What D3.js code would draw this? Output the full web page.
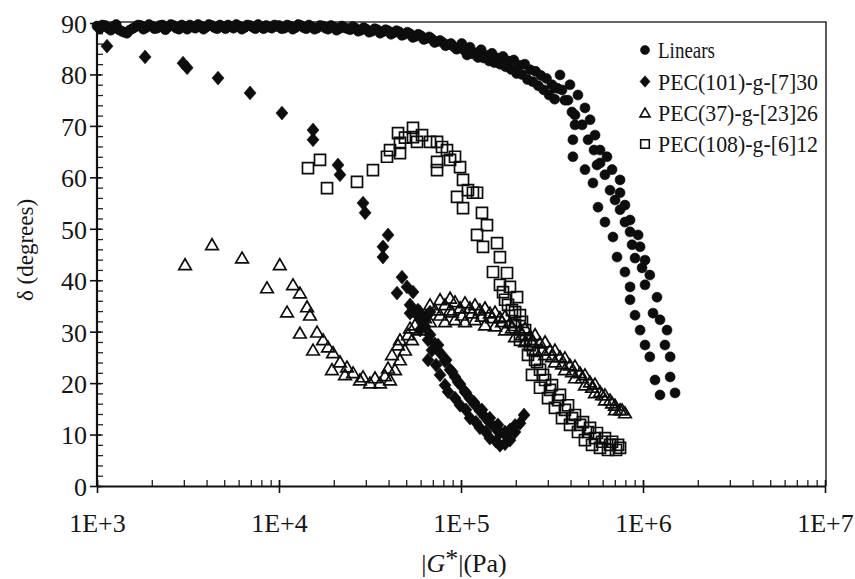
<!DOCTYPE html>
<html>
<head>
<meta charset="utf-8">
<script src="https://cdn.jsdelivr.net/npm/d3@7"></script>
<style>
  body { margin: 0; background: #fff; }
  svg { display: block; }
  text { font-family: "Liberation Serif", "Times New Roman", serif; fill: #151515; }
</style>
</head>
<body>
<svg id="chart" width="855" height="579"></svg>
<script>
// Data: [|G*| (Pa), delta (degrees)]
const linears = [
  [1000,89.4],[1070,89.6],[1150,89.0],[1230,89.3],[1320,88.7],[1410,88.2],[1510,88.6],[1620,89.2],[1740,89.5],[1860,89.1],
  [2000,89.4],[2140,89.0],[2290,89.6],[2460,89.2],[2630,89.5],[2820,88.8],[3020,89.3],[3240,89.6],[3470,89.0],[3720,89.4],
  [3980,89.2],[4270,89.5],[4570,88.9],[4900,89.3],[5250,89.6],[5620,89.0],[6030,89.4],[6460,89.1],[6920,89.5],[7410,88.9],
  [7940,89.3],[8510,89.5],[9120,89.0],[9770,89.3],[10000,89.5],[10700,89.0],[11500,89.4],[12300,89.1],[13200,89.5],[14100,88.9],
  [15100,89.3],[16200,89.0],[17400,89.4],[18600,88.8],[20000,89.2],[21400,88.9],[22900,89.1],[24600,88.7],[26300,89.0],[28200,88.6],
  [30200,88.8],[32400,88.4],[34700,88.7],[37200,88.3],[39800,88.5],[42700,88.1],[45700,88.3],[49000,87.8],[52500,87.9],[56200,87.4],
  [60300,87.5],[64600,87.0],[69200,86.9],[74100,86.4],[79400,86.2],[85100,85.8],[91200,85.4],[97700,85.1],
  [1035,88.9],[1110,89.5],[1190,88.6],[1275,89.7],[1365,88.4],[1460,88.0],[1565,88.9],[1680,89.6],[1800,88.8],[1930,89.7],
  [2070,88.9],[2215,89.5],[2375,88.7],[2545,89.7],[2725,89.0],[2920,89.6],[3130,88.8],[3355,89.2],[3595,89.7],[3850,88.8],
  [4120,89.7],[4420,89.1],[4735,89.6],[5075,88.9],[5435,89.3],[5825,89.7],[6245,88.8],[6690,89.6],[7165,89.2],[7675,89.7],
  [8225,88.9],[8815,89.2],[9445,89.6],[10350,88.9],[11100,89.6],[11900,88.8],[12750,89.7],[13650,89.1],[14600,89.6],[15650,88.8],
  [16800,89.5],[18000,89.0],[19300,89.5],[20700,88.6],[22150,89.4],[23750,88.9],[25450,89.3],[27250,88.4],[29200,89.1],[31300,88.2],
  [33550,88.9],[35950,88.0],[38500,88.7],[41250,87.8],[44200,88.5],[47350,87.6],[50750,88.2],[54350,87.2],[58250,87.8],[62450,86.8],
  [66900,87.3],[71650,86.2],[76750,86.6],[82250,85.6],[88150,86.0],[94450,84.9],
  [105000,84.6],[112000,85.3],[120000,84.2],[129000,84.8],[138000,83.7],[148000,84.1],[158000,83.2],[170000,83.5],[182000,82.6],[195000,82.8],
  [209000,81.8],[224000,82.0],[240000,80.9],[257000,80.6],[275000,79.8],[295000,79.2],[316000,78.0],[339000,77.3],
  [101000,86.0],[108000,83.8],[116000,84.0],[124000,83.3],[133000,83.2],[143000,82.6],[153000,82.3],[164000,82.0],[176000,81.5],[188000,81.0],
  [202000,80.2],[216000,80.0],[232000,79.0],[248000,78.6],[266000,77.8],[285000,77.0],[305000,76.0],[327000,75.2],
  // upper-left branch of the fall
  [359000,77.0],[387000,75.0],[407000,72.7],[423000,70.2],[412000,67.3],[412000,64.0],[480000,61.5],[531000,58.9],[566000,54.2],[618000,51.3],
  [684000,48.4],[720000,44.5],[796000,41.6],[849000,38.7],[849000,36.2],[904000,33.2],[964000,30.3],[1026000,27.4],[1090000,25.1],[1164000,20.6],[1240000,17.7],
  // lower-right branch of the fall
  [350000,79.9],[397000,78.0],[439000,76.0],[480000,73.5],[512000,71.2],[545000,68.2],[581000,65.3],[581000,62.8],[634000,64.0],[676000,61.5],
  [748000,59.5],[748000,57.0],[796000,54.6],[849000,51.7],[940000,48.8],[964000,46.5],[1026000,43.9],[1090000,41.0],[1194000,36.7],[1135000,33.6],
  [1240000,32.3],[1355000,30.3],[1320000,27.4],[1410000,25.1],[1410000,21.2],[1500000,18.1],
  // middle of the fall
  [328000,77.4],[372000,75.0],[423000,72.1],[463000,70.2],[499000,67.3],[538000,65.3],[559000,62.4],[618000,60.5],[659000,57.5],[702000,55.6],
  [748000,53.7],[796000,51.3],[849000,49.4],[871000,46.9],[904000,44.3],[988000,42.4],[1026000,39.1]
];

const pec101 = [
  [1135,85.5],[1837,83.4],[2970,82.2],[3127,81.3],[4624,79.3],[6934,76.4],[10380,72.5],[15380,69.2],[15380,67.3],
  [21090,62.4],[21630,60.5],[28960,55.0],[29720,53.1],[39740,48.8],[37250,46.5],[37250,44.5],
  [47400,40.6],[50500,38.7],[54500,37.7],[44500,37.5],
  [52500,33.6],[58000,34.2],[63400,32.3],[59600,30.3],[65900,28.4],[69300,26.4],[65900,24.5],[73000,23.5],[76700,21.6],[81700,19.6],
  [84900,18.3],[92700,17.1],[98800,15.7],[106500,14.8],[112000,13.2],[120800,12.4],[127000,11.3],[137000,10.5],[144000,9.3],[155600,8.7],
  [163700,7.9],[174500,8.2],[185800,8.9],[198000,10.5],[211000,12.2],[222000,13.8],
  [67600,33.8],[61100,32.7],[74800,27.4],[82800,24.5],[89300,22.2],[96400,20.2],[106500,18.1],[117800,16.3],[130300,14.8],[144000,13.2],
  [159500,11.9],[174500,10.5],
  [52480,35.2],[55850,33.8],[59560,32.7],[63410,31.0],[67580,29.4],[71940,27.6],[76700,25.9],[81660,24.3],[87090,22.6],[92680,21.2],
  [98800,19.8],[105200,18.3],[111960,17.0],[119400,15.8],[127060,14.6],[135500,13.4],[144200,12.3],[153800,11.3],[163700,10.4],[174600,10.0],
  [185800,10.9],[198200,11.8]
];

const pec37 = [
  [3046,43.0],[4285,46.9],[6266,44.3],[10100,43.0],[8590,38.5],[11940,39.1],[13030,37.5],[11070,33.8],[14260,34.8],[14800,33.2],
  [13030,29.7],[16180,29.9],[15380,26.4],[17470,28.4],[18590,27.0],[19810,25.9],[19540,22.6],[21630,24.1],[23640,23.1],[23050,21.6],
  [25520,22.0],[27860,20.6],[28960,21.2],[31620,20.0],[33690,21.0],[35890,20.0],[38200,21.4],[40740,20.6],[39740,22.9],[43370,22.6],
  [41780,25.5],[46210,24.5],[45080,27.4],[49230,26.4],[51170,29.4],[53830,28.4],[55850,31.3],[59560,30.3],[63410,32.7],[67580,31.9],
  [71940,34.2],[76700,33.2],[81660,35.2],[87090,34.2],[92680,35.8],[98800,34.6],[105200,35.6],[111960,34.6],[119400,35.2],[127060,34.2],
  [135500,34.6],[144200,33.6],[153800,33.8],[163700,32.7],[174600,33.0],[185800,31.7],[198200,31.9],[210900,30.3],[224900,30.7],[239300,29.2],
  [255300,29.4],[271700,27.8],[289700,28.0],[308300,26.4],[328100,26.4],[349900,25.1],[372400,24.9],[397200,23.5],[422700,23.3],[450800,22.0],
  [479700,21.6],[511700,20.2],[544500,19.8],[580700,18.3],[618000,17.7],[659200,16.7],[701500,15.7],[748200,14.8],[796200,14.2],
  [81660,31.9],[92680,32.3],[105200,31.9],[119400,32.3],[135500,31.3],[153800,31.1],[174600,30.3],[198200,29.0],[224900,28.0],[255300,26.4],
  [289700,25.5],[328100,24.1],[372400,22.6],[422700,21.0],[479700,19.6],[544500,18.1],[618000,16.7],[701500,14.8],
  [59560,33.8],[67580,35.2],[76700,36.2],[87090,36.5],
  [46210,28.4],[52480,30.7],[89310,33.8],[101300,33.2],[114900,33.6],[130400,33.0],[148000,32.7],[168000,31.9],[190500,30.7],[216300,29.4],
  [245500,28.0],[278600,26.4],[316200,25.1],[359000,23.7],[407400,22.2],[462300,21.0],[524800,19.2],[595700,17.7],[676100,16.1],[767000,14.8]
];

const pec108 = [
  [14430,61.8],[16800,63.4],[18360,57.9],[26830,59.1],[32830,61.4],[39200,64.0],[40740,65.3],[45080,68.6],
  [46210,66.7],[46210,64.7],[49230,67.7],[54480,69.6],[54480,67.8],[57330,66.9],[61070,68.2],[67580,66.9],[73850,66.9],[73850,63.0],
  [73850,61.4],[78650,65.9],[83760,65.3],[87090,63.4],[92680,64.0],[98800,62.0],[102600,59.5],[95110,56.2],[102600,54.0],[109200,57.5],
  [116300,57.0],[122500,57.0],[130400,53.1],[138900,50.7],[122500,48.8],[132100,46.5],[157800,47.2],[163700,44.5],[149900,41.6],[179000,41.4],
  [163700,39.1],[185800,38.7],[203200,36.7],[174600,36.2],[190500,34.2],[210900,33.2],[198200,31.3],[224900,30.3],[210900,28.4],[239300,27.4],
  [233400,25.5],[255300,24.5],[271700,22.6],[245500,21.6],[289700,20.6],[271700,19.1],[308300,18.7],[300700,17.1],[341200,16.7],[328100,15.2],
  [372400,14.8],[359000,13.2],[407400,13.2],[397200,11.9],[450800,11.9],[439300,10.5],[498900,10.5],[479700,8.9],[544500,9.3],[524800,8.0],
  [595700,8.6],[580700,7.4],[659200,8.0],[642200,7.0],[729400,8.0],[711200,7.0],
  [170200,37.7],[181300,35.2],[198200,33.8],[216300,31.9],[227500,28.4],[248700,26.4],[261600,24.1],[282400,21.6],[316200,19.6],[349900,17.7],
  [387300,15.7],[422700,13.8],[468000,12.4],[511700,11.3],[558500,10.3],[618000,9.3],[676100,8.6],[748200,7.4]
];

const xTicks = [1e3, 1e4, 1e5, 1e6, 1e7];
const yTicks = [0, 10, 20, 30, 40, 50, 60, 70, 80, 90];
const legendLabels = ["Linears", "PEC(101)-g-[7]30", "PEC(37)-g-[23]26", "PEC(108)-g-[6]12"];

const svg = d3.select("#chart");
const width = 855, height = 579;
svg.append("rect").attr("width", width).attr("height", height).attr("fill", "#fff");

const x = d3.scaleLog().domain([1e3, 1e7]).range([97, 825]);
const y = d3.scaleLinear().domain([0, 90]).range([486, 23]);

// Frame (top and right)
svg.append("path")
  .attr("d", `M${x(1e3)},${y(90) - 1}H${x(1e7) + 1}V${y(0)}`)
  .attr("fill", "none").attr("stroke", "#333").attr("stroke-width", 1.6);

// Minor ticks
const minorX = [];
for (let e = 3; e < 7; e++) for (let m = 1; m <= 9; m++) minorX.push(m * Math.pow(10, e));
const minorY = d3.range(0, 91, 2);

svg.append("g").attr("transform", `translate(0,${y(0)})`)
  .call(d3.axisBottom(x).tickValues(minorX).tickSize(-6).tickSizeOuter(0).tickFormat(""))
  .call(g => g.select(".domain").remove())
  .selectAll("line").attr("stroke", "#222").attr("stroke-width", 1.3);

svg.append("g").attr("transform", `translate(${x(1e3)},0)`)
  .call(d3.axisLeft(y).tickValues(minorY).tickSize(-6).tickSizeOuter(0).tickFormat(""))
  .call(g => g.select(".domain").remove())
  .selectAll("line").attr("stroke", "#222").attr("stroke-width", 1.3);

// Main axes
const xAxis = svg.append("g").attr("transform", `translate(0,${y(0)})`)
  .call(d3.axisBottom(x).tickValues(xTicks).tickSize(7).tickSizeOuter(0)
    .tickFormat(d => "1E+" + Math.round(Math.log10(d))));
xAxis.select(".domain").attr("stroke", "#111").attr("stroke-width", 2.2);
xAxis.selectAll("line").attr("stroke", "#111").attr("stroke-width", 1.6).attr("y1", -6);
xAxis.selectAll("text").attr("y", 46).attr("dy", 0)
  .style("font-size", "26px").style("font-family", "'Liberation Serif', serif").attr("fill", "#151515");

const yAxis = svg.append("g").attr("transform", `translate(${x(1e3)},0)`)
  .call(d3.axisLeft(y).tickValues(yTicks).tickSize(7).tickSizeOuter(0).tickPadding(3));
yAxis.select(".domain").attr("stroke", "#111").attr("stroke-width", 2.2)
  .attr("d", `M0,${y(90) - 2}V${y(0) + 1}`);
yAxis.selectAll("line").attr("stroke", "#111").attr("stroke-width", 1.6).attr("x1", 4);
yAxis.selectAll("text").attr("dy", "0.36em")
  .style("font-size", "26px").style("font-family", "'Liberation Serif', serif").attr("fill", "#151515");

// Axis titles
const xt = svg.append("text").attr("x", 464).attr("y", 572).attr("text-anchor", "middle")
  .style("font-size", "26px");
xt.append("tspan").text("|");
xt.append("tspan").attr("font-style", "italic").text("G");
xt.append("tspan").attr("dy", -5).text("*");
xt.append("tspan").attr("dy", 5).text("|(Pa)");

svg.append("text")
  .attr("transform", "translate(33,250) rotate(-90)")
  .attr("text-anchor", "middle")
  .style("font-size", "23px")
  .text("δ (degrees)");

// Marker shapes
const shapes = {
  circle: r => `M${r},0A${r},${r} 0 1,1 ${-r},0A${r},${r} 0 1,1 ${r},0Z`,
  diamond: s => `M0,${-s * 1.15}L${s},0L0,${s * 1.15}L${-s},0Z`,
  triangle: s => `M0,${-s}L${s * 1.05},${s * 0.8}L${-s * 1.05},${s * 0.8}Z`,
  square: s => `M${-s},${-s}H${s}V${s}H${-s}Z`
};

function drawSeries(data, shape, size, filled) {
  svg.append("g").selectAll("path").data(data).join("path")
    .attr("transform", d => `translate(${x(d[0])},${y(d[1])})`)
    .attr("d", shapes[shape](size))
    .attr("fill", filled ? "#0d0d0d" : "none")
    .attr("stroke", "#0d0d0d")
    .attr("stroke-width", filled ? 0.6 : 1.7);
}

drawSeries(pec37, "triangle", 6, false);
drawSeries(pec108, "square", 5.5, false);
drawSeries(pec101, "diamond", 6, true);
drawSeries(linears, "circle", 5, true);

// Legend
const legendRows = [50, 81.5, 113, 144];
const legendShapes = [["circle", 4.5, true], ["diamond", 5, true], ["triangle", 4.8, false], ["square", 4.3, false]];
const legendWidths = [57, 160, 160, 160];
legendLabels.forEach((label, i) => {
  const [shape, size, filled] = legendShapes[i];
  svg.append("path")
    .attr("transform", `translate(645,${legendRows[i]})`)
    .attr("d", shapes[shape](size))
    .attr("fill", filled ? "#0d0d0d" : "none")
    .attr("stroke", "#0d0d0d")
    .attr("stroke-width", filled ? 0.6 : 1.6);
  svg.append("text")
    .attr("x", 658).attr("y", legendRows[i] + 8)
    .attr("textLength", legendWidths[i]).attr("lengthAdjust", "spacingAndGlyphs")
    .style("font-size", "24px")
    .text(label);
});
</script>
</body>
</html>
